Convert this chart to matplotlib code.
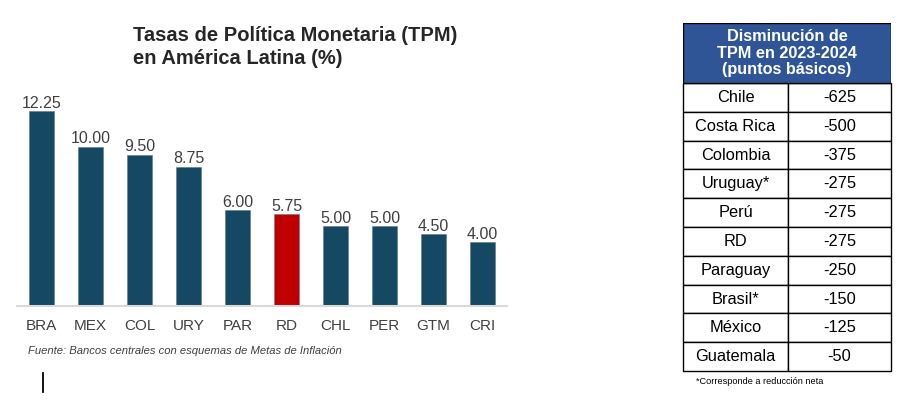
import matplotlib
matplotlib.use('Agg')
import matplotlib.pyplot as plt
from matplotlib.patches import Rectangle
from matplotlib.lines import Line2D

plt.rcParams['font.family'] = ['Liberation Sans', 'DejaVu Sans']

# bar chart data
countries = ['BRA', 'MEX', 'COL', 'URY', 'PAR', 'RD', 'CHL', 'PER', 'GTM', 'CRI']
rates = [12.25, 10.00, 9.50, 8.75, 6.00, 5.75, 5.00, 5.00, 4.50, 4.00]
highlight = 'RD'

# table data
table_names = ['Chile', 'Costa Rica', 'Colombia', 'Uruguay*', 'Perú', 'RD',
               'Paraguay', 'Brasil*', 'México', 'Guatemala']
table_values = [-625, -500, -375, -275, -275, -275, -250, -150, -125, -50]

BAR_COLOR = '#154862'
RED = '#C00000'
HEADER_BLUE = '#2F5597'
TEXT_GRAY = '#404040'

W, H = 918, 408
fig = plt.figure(figsize=(W / 100, H / 100), dpi=100)

# --- bar chart ---
ax = fig.add_axes([17 / W, 1 - 306 / H, 490 / W, 207 / H])
colors = [RED if c == highlight else BAR_COLOR for c in countries]
bars = ax.bar(range(len(countries)), rates, width=0.53, color=colors,
              edgecolor='#5a7a90', linewidth=0.4, zorder=2)
ax.set_xlim(-0.5, len(countries) - 0.5)
ax.set_ylim(0, 13)
for x, v in enumerate(rates):
    ax.text(x, v + 0.02, f'{v:.2f}', ha='center', va='bottom',
            fontsize=11.5, color=TEXT_GRAY)
ax.set_xticks(range(len(countries)))
ax.set_xticklabels(countries, fontsize=11, color=TEXT_GRAY)
ax.tick_params(axis='x', length=0, pad=9)
ax.set_yticks([])
for s in ['top', 'right', 'left']:
    ax.spines[s].set_visible(False)
ax.spines['bottom'].set_color('#d9d9d9')
ax.spines['bottom'].set_linewidth(1.5)

fig.text(133 / W, 1 - 26 / H, 'Tasas de Política Monetaria (TPM)\nen América Latina (%)',
         ha='left', va='top', fontsize=14.5, fontweight='bold', color='#262626',
         linespacing=1.3)
fig.text(28 / W, 1 - 351 / H, 'Fuente: Bancos centrales con esquemas de Metas de Inflación',
         ha='left', va='center', fontsize=8.1, style='italic', color=TEXT_GRAY)
fig.add_artist(Line2D([43 / W, 43 / W], [1 - 373 / H, 1 - 392 / H],
                      color='black', linewidth=1.3))

# --- table ---
tx0, tx1, ty0, ty1 = 683, 891, 23, 371
tax = fig.add_axes([tx0 / W, 1 - ty1 / H, (tx1 - tx0) / W, (ty1 - ty0) / H])
tax.axis('off')
tax.set_xlim(0, 1)
tax.set_ylim(0, 1)
head_h = 60 / (ty1 - ty0)
tax.add_patch(Rectangle((0, 1 - head_h), 1, head_h, facecolor=HEADER_BLUE,
                        edgecolor='black', linewidth=1))
tax.text(0.5, 1 - head_h / 2, 'Disminución de\nTPM en 2023-2024\n(puntos básicos)',
         ha='center', va='center', fontsize=11.7, fontweight='bold', color='white',
         linespacing=1.12)
cells = [[n, str(v)] for n, v in zip(table_names, table_values)]
tbl = tax.table(cellText=cells, cellLoc='center', colWidths=[0.505, 0.495],
                bbox=[0, 0, 1, 1 - head_h])
tbl.auto_set_font_size(False)
for (r, c), cell in tbl.get_celld().items():
    cell.set_fontsize(11.8)
    cell.set_edgecolor('black')
    cell.set_linewidth(1)
fig.text(696 / W, 1 - 381 / H, '*Corresponde a reducción neta',
         ha='left', va='center', fontsize=6.6, color='black')

fig.savefig('out.png', dpi=100, facecolor='white')
